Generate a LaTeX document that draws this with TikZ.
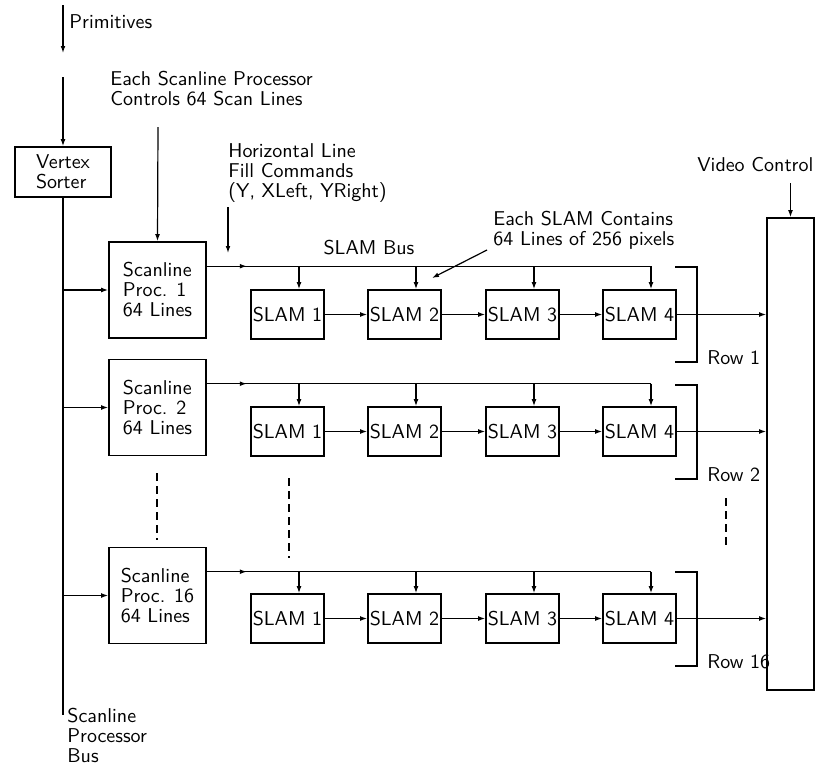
\documentclass[tikz,border=0pt]{standalone}
\usetikzlibrary{arrows.meta,calc}
\begin{document}
\begin{tikzpicture}[x=0.5pt,y=-0.5pt,
  txt/.style={font=\sffamily\fontsize{10}{10}\selectfont},
  box/.style={txt,draw,line width=0.8pt,inner sep=0pt,align=left},
  procbox/.style={box,minimum width=48.5pt,minimum height=48pt},
  slambox/.style={box,minimum width=36.5pt,minimum height=24.5pt},
  lab/.style={txt,inner sep=0pt,anchor=north west,align=left},
  ln/.style={line width=0.6pt},
  arr/.style={ln,-{Latex[length=3.5pt,width=2.4pt]}},
  dsh/.style={ln,dash pattern=on 4pt off 2.5pt}]
\useasboundingbox (0,0) rectangle (815,766);

% top labels
\node[lab] (prim) at (69,14) {Primitives};
\node[lab] (esp) at (110,71) {Each Scanline Processor\\Controls 64 Scan Lines};
\node[lab] (hlf) at (228,143) {Horizontal Line\\Fill Commands\\(Y, XLeft, YRight)};
\node[txt,inner sep=0pt] (sbus) at (369,248) {SLAM Bus};
\node[lab] (esc) at (493,211) {Each SLAM Contains\\64 Lines of 256 pixels};
\node[lab] (vcl) at (697,157) {Video Control};
\node[lab] (spb) at (67,708) {Scanline\\Processor\\Bus};

% vertex sorter and video control box
\node[box,minimum width=48pt,minimum height=25pt] (vs) at (63,172) {Vertex\\Sorter};
\node[draw,line width=0.8pt,inner sep=0pt,minimum width=23.5pt,minimum height=236pt] (vc) at (790.5,454) {};

% free ends
\coordinate (p0) at (63,5);
\coordinate (p1) at (63,53);
\coordinate (v0) at (63,77);
\coordinate (busend) at (63,715);
\coordinate (e0) at (158,127);
\coordinate (h0) at (228,207);
\coordinate (h1) at (228,253);
\coordinate (q0) at (487,250);
\coordinate (q1) at (432,278);
\coordinate (vc0) at (790.5,183);

\draw[arr] (p0) -- (p1);
\draw[arr] (v0) -- (vs.north);
\draw[ln] (vs.south) -- (busend);
\draw[arr] (h0) -- (h1);
\draw[arr] (q0) -- (q1);
\draw[arr] (vc0) -- (vc.north);

% rows
\foreach \r/\P/\Y/\B/\Bb in {1/290/314.5/267/362, 2/407.5/431.5/385/479, 16/595.5/618.5/572/666} {
  \node[procbox] (pr\r) at (157.5,\P) {Scanline\\Proc. \r\\64 Lines};
  \draw[arr] (vs.south |- pr\r.west) -- (pr\r.west);
  \foreach \i/\x in {1/287.5,2/404.5,3/522.5,4/639.5}
    \node[slambox] (s\r-\i) at (\x,\Y) {SLAM \i};
  \coordinate (b\r) at ($(pr\r.north east)+(0,25)$);
  \foreach \i in {1,...,4} {
    \coordinate (d\r-\i) at ($(s\r-\i.north)+(11.5,0)$);
    \draw[arr] (b\r -| d\r-\i) -- (d\r-\i);
  }
  \draw[ln] (b\r) -- (b\r -| d\r-4);
  \draw[arr] (b\r) -- ++(40,0);
  \draw[arr] (s\r-1.east) -- (s\r-2.west);
  \draw[arr] (s\r-2.east) -- (s\r-3.west);
  \draw[arr] (s\r-3.east) -- (s\r-4.west);
  \draw[arr] (s\r-4.east) -- (s\r-4.east -| vc.west);
  \coordinate (k\r a) at (675,\B);
  \coordinate (k\r b) at (697,\B);
  \coordinate (k\r c) at (697,\Bb);
  \coordinate (k\r d) at (675,\Bb);
  \draw[ln] (k\r a) -- (k\r b) -- (k\r c) -- (k\r d);
  \node[lab] (row\r) at (707,\Bb-12) {Row \r};
}
\draw[arr] (e0) -- (pr1.north);

% dashed continuation marks
\coordinate (da0) at (157,473); \coordinate (da1) at (157,540);
\coordinate (db0) at (289,478); \coordinate (db1) at (289,558);
\coordinate (dc0) at (726,498); \coordinate (dc1) at (726,548);
\draw[dsh] (da0) -- (da1);
\draw[dsh] (db0) -- (db1);
\draw[dsh] (dc0) -- (dc1);
\end{tikzpicture}
\end{document}
